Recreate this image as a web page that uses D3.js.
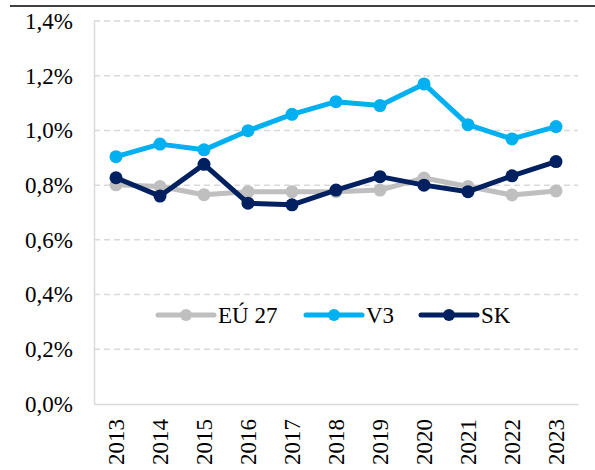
<!DOCTYPE html>
<html>
<head>
<meta charset="utf-8">
<script src="https://cdn.jsdelivr.net/npm/d3@7"></script>
<style>
  html, body { margin: 0; padding: 0; background: #fff; }
  svg text { font-family: "Liberation Serif", "Times New Roman", serif !important; }
</style>
</head>
<body>
<div id="chart"></div>
<script>
// Years on the category axis
const years = ["2013","2014","2015","2016","2017","2018","2019","2020","2021","2022","2023"];

// Share values (%) per series
const eu27 = [0.801, 0.795, 0.765, 0.776, 0.776, 0.776, 0.782, 0.826, 0.795, 0.764, 0.779];
const v3   = [0.904, 0.950, 0.929, 0.999, 1.059, 1.105, 1.091, 1.170, 1.021, 0.969, 1.014];
const sk   = [0.827, 0.760, 0.876, 0.734, 0.728, 0.782, 0.831, 0.800, 0.776, 0.834, 0.886];

// Value-axis ticks
const yTicks = [0, 0.2, 0.4, 0.6, 0.8, 1.0, 1.2, 1.4];

const seriesNames  = ["EÚ 27", "V3", "SK"];
const seriesColors = ["#bfbfbf", "#00b0f0", "#002060"];
const seriesData   = [eu27, v3, sk];

const W = 595, H = 470;
const m = { left: 94, right: 17, top: 21, bottom: 66 };
const serif = '"Liberation Serif", "Times New Roman", serif';
const fontSize = "23px";

const svg = d3.select("#chart").append("svg")
  .attr("width", W).attr("height", H);

// Thin rule across the top of the page
svg.append("line")
  .attr("x1", 10).attr("x2", W).attr("y1", 6).attr("y2", 6)
  .attr("stroke", "#000").attr("stroke-width", 1.5);

const x = d3.scaleBand().domain(years).range([m.left, W - m.right]);
const y = d3.scaleLinear().domain([0, 1.4]).range([H - m.bottom, m.top]);
const cx = d => x(d) + x.bandwidth() / 2;

// Dashed horizontal gridlines
svg.append("g")
  .selectAll("line").data(yTicks.filter(t => t > 0)).join("line")
  .attr("x1", m.left).attr("x2", W - m.right)
  .attr("y1", d => y(d)).attr("y2", d => y(d))
  .attr("stroke", "#d9d9d9").attr("stroke-width", 1.5)
  .attr("stroke-dasharray", "6,4");

// Value axis
const fmt = d => d3.format(".1f")(d).replace(".", ",") + "%";
const yAxis = svg.append("g")
  .attr("transform", `translate(${m.left},0)`)
  .call(d3.axisLeft(y).tickValues(yTicks).tickFormat(fmt).tickSize(0).tickPadding(21));
yAxis.attr("font-family", null);
yAxis.select(".domain").attr("stroke", "#d9d9d9").attr("stroke-width", 1.5);
yAxis.selectAll("text").style("font-size", fontSize).attr("fill", "#000")
  .style("font-family", serif);

// Category axis
const xAxis = svg.append("g")
  .attr("transform", `translate(0,${H - m.bottom})`)
  .call(d3.axisBottom(x).tickSize(0).tickPadding(0));
xAxis.attr("font-family", null);
xAxis.select(".domain").attr("stroke", "#d9d9d9").attr("stroke-width", 1.5);
xAxis.selectAll("text")
  .style("font-size", fontSize).attr("fill", "#000")
  .style("font-family", serif)
  .attr("transform", "rotate(-90)")
  .attr("text-anchor", "end")
  .attr("x", -15).attr("y", 0).attr("dy", "0.35em");

// Series lines and markers
const line = d3.line().x((d, i) => cx(years[i])).y(d => y(d));
seriesData.forEach((vals, k) => {
  const g = svg.append("g");
  g.append("path").datum(vals)
    .attr("d", line).attr("fill", "none")
    .attr("stroke", seriesColors[k]).attr("stroke-width", 5)
    .attr("stroke-linejoin", "round");
  g.selectAll("circle").data(vals).join("circle")
    .attr("cx", (d, i) => cx(years[i])).attr("cy", d => y(d))
    .attr("r", 6.5).attr("fill", seriesColors[k]);
});

// Legend
const legendX = [158, 306, 421];
const legendY = 315;
const leg = svg.append("g");
seriesNames.forEach((name, k) => {
  const lx = legendX[k];
  leg.append("line")
    .attr("x1", lx).attr("x2", lx + 56).attr("y1", legendY).attr("y2", legendY)
    .attr("stroke", seriesColors[k]).attr("stroke-width", 5).attr("stroke-linecap", "round");
  leg.append("circle").attr("cx", lx + 28).attr("cy", legendY).attr("r", 6)
    .attr("fill", seriesColors[k]);
  leg.append("text")
    .attr("x", lx + 60).attr("y", legendY).attr("dy", "0.35em")
    .style("font-size", fontSize).style("font-family", serif)
    .attr("fill", "#000").text(name);
});
</script>
</body>
</html>
